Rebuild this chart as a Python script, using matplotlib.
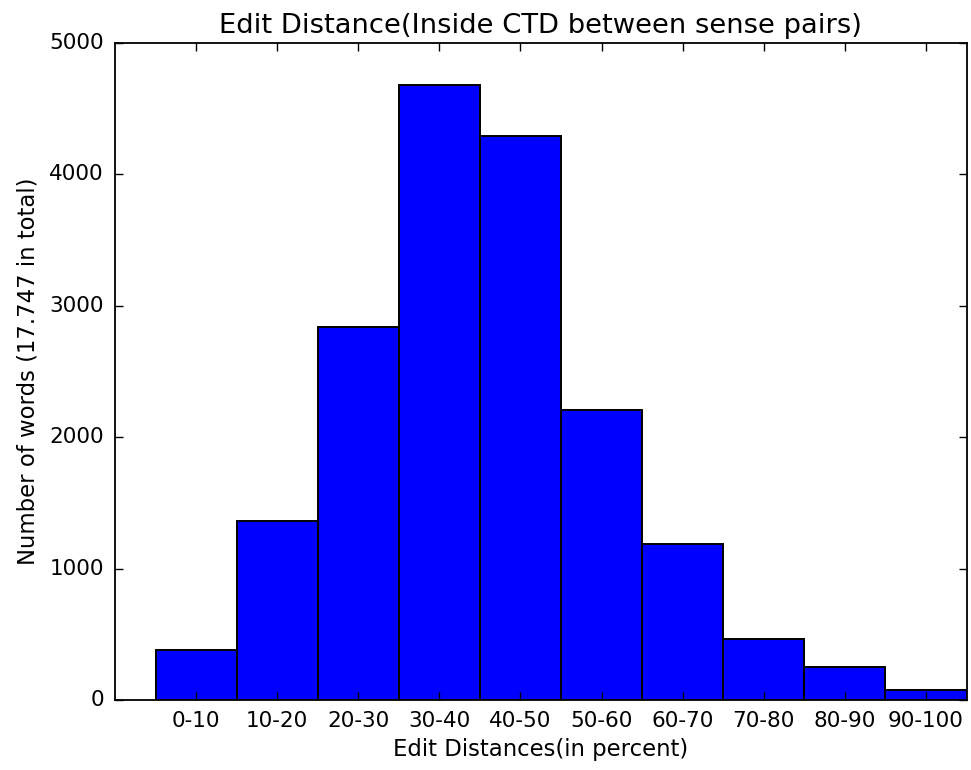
import matplotlib
matplotlib.use('Agg')
import matplotlib.pyplot as plt

# --- data ---
categories = ['0-10', '10-20', '20-30', '30-40', '40-50',
              '50-60', '60-70', '70-80', '80-90', '90-100']
counts = [378, 1365, 2841, 4683, 4292, 2207, 1185, 462, 254, 76]
y_ticks = [0, 1000, 2000, 3000, 4000, 5000]

plt.style.use('classic')

fig = plt.figure(figsize=(9.71, 7.70), dpi=100, facecolor='white')
ax = fig.add_axes([0.1184, 0.0909, 0.8770, 0.8533])

positions = list(range(len(categories)))
ax.bar(positions, counts, width=1.0, align='center',
       color='#0000ff', edgecolor='black', linewidth=1.4)

ax.set_xlim(-1, len(categories) - 0.5)
ax.set_ylim(0, 5000)
ax.set_xticks(positions)
ax.set_xticklabels(categories)
ax.set_yticks(y_ticks)

ax.tick_params(axis='both', which='major', direction='in', length=5.5,
               width=1.0, labelsize=15.5, top=True, right=True, pad=8)
ax.minorticks_off()
for spine in ax.spines.values():
    spine.set_linewidth(1.3)

ax.set_title('Edit Distance(Inside CTD between sense pairs)', fontsize=19.7, pad=7)
ax.set_xlabel('Edit Distances(in percent)', fontsize=16.4, labelpad=5)
ax.set_ylabel('Number of words (17.747 in total)', fontsize=16.4, labelpad=7)

fig.savefig('out.png', dpi=100, facecolor='white')
